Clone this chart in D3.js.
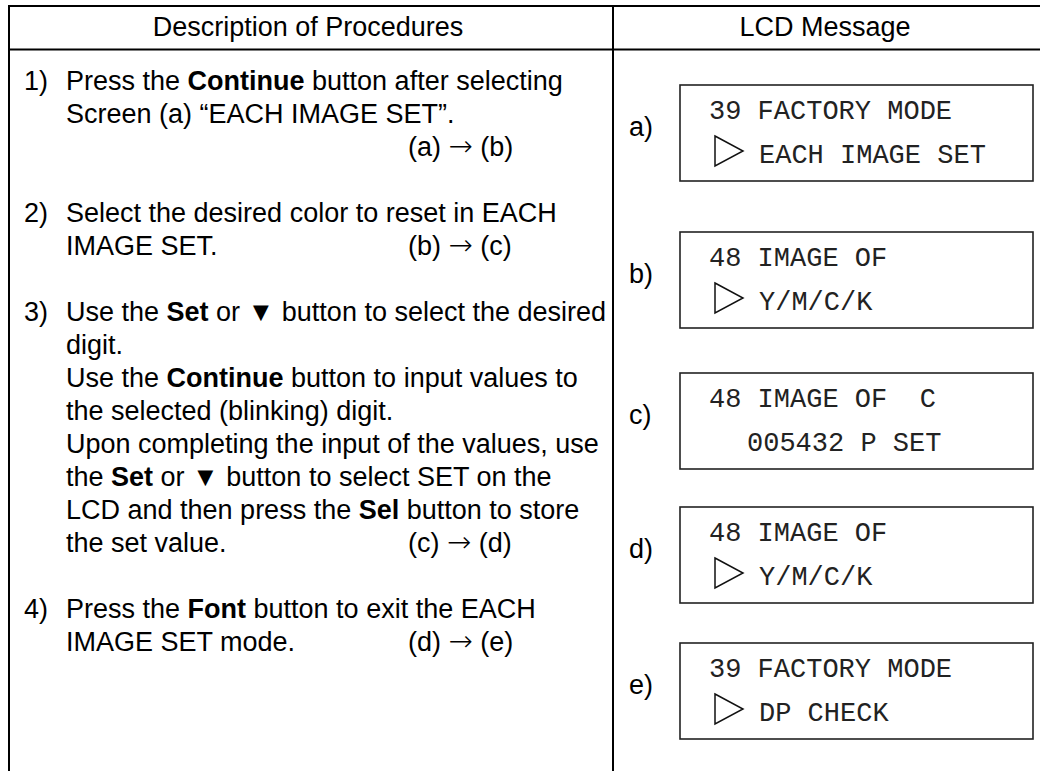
<!DOCTYPE html>
<html>
<head>
<meta charset="utf-8">
<script src="https://cdn.jsdelivr.net/npm/d3@7"></script>
<style>
  html, body { margin: 0; padding: 0; background: #fff; }
  svg { display: block; }
  text { font-family: "Liberation Sans", Arial, Helvetica, sans-serif; fill: #000; }
  .mono { font-family: "Liberation Mono", "Courier New", monospace; fill: #222; }
</style>
</head>
<body>
<svg id="chart" width="1040" height="771"></svg>
<script>
// ---- data ----
const headers = ["Description of Procedures", "LCD Message"];
const stepNumbers = ["1)", "2)", "3)", "4)"];
const stepLines = [
  ["Press the **Continue** button after selecting", "Screen (a) “EACH IMAGE SET”.", ""],
  ["Select the desired color to reset in EACH", "IMAGE SET."],
  ["Use the **Set** or ▼ button to select the desired", "digit.",
   "Use the **Continue** button to input values to", "the selected (blinking) digit.",
   "Upon completing the input of the values, use", "the **Set** or ▼ button to select SET on the",
   "LCD and then press the **Sel** button to store", "the set value."],
  ["Press the **Font** button to exit the EACH", "IMAGE SET mode."]
];
const stepFrom = ["(a)", "(b)", "(c)", "(d)"];
const stepTo = ["(b)", "(c)", "(d)", "(e)"];
const lcdLabels = ["a)", "b)", "c)", "d)", "e)"];
const lcdLine1 = ["39 FACTORY MODE", "48 IMAGE OF", "48 IMAGE OF  C", "48 IMAGE OF", "39 FACTORY MODE"];
const lcdLine2 = ["EACH IMAGE SET", "Y/M/C/K", "005432 P SET", "Y/M/C/K", "DP CHECK"];
const lcdArrow = [true, true, false, true, true];
const lcdTops = [85, 232, 373, 507, 643];

// ---- layout ----
const W = 1040, H = 771;
const svg = d3.select("#chart");
const tableLeft = 9, tableTop = 6, headerBottom = 49.5, colDiv = 613, tableRight = 1037;

// line index scale for the left column
const lineY = d3.scaleLinear().domain([0, 1]).range([90, 123]);

// borders
const g = svg.append("g");
g.append("line").attr("x1", tableLeft - 1).attr("x2", W).attr("y1", tableTop).attr("y2", tableTop)
  .attr("stroke", "#000").attr("stroke-width", 2);
g.append("line").attr("x1", tableLeft - 1).attr("x2", W).attr("y1", headerBottom).attr("y2", headerBottom)
  .attr("stroke", "#000").attr("stroke-width", 2);
g.append("line").attr("x1", tableLeft).attr("x2", tableLeft).attr("y1", tableTop - 1).attr("y2", H)
  .attr("stroke", "#000").attr("stroke-width", 2);
g.append("line").attr("x1", colDiv).attr("x2", colDiv).attr("y1", tableTop - 1).attr("y2", H)
  .attr("stroke", "#000").attr("stroke-width", 2);

// headers
const headerX = [(tableLeft + colDiv) / 2 - 3, (colDiv + tableRight) / 2];
svg.selectAll("text.header").data(headers).join("text")
  .attr("class", "header")
  .attr("x", (d, i) => headerX[i]).attr("y", 36)
  .attr("text-anchor", "middle").attr("font-size", 27)
  .text(d => d);

// left column steps
function addRich(sel, str) {
  const parts = str.split("**");
  parts.forEach((p, i) => {
    if (!p) return;
    sel.append("tspan").attr("font-weight", i % 2 ? "bold" : null).text(p);
  });
}
let idx = 0;
const stepG = svg.append("g");
stepLines.forEach((lines, s) => {
  const startIdx = idx;
  stepG.append("text").attr("x", 24).attr("y", lineY(startIdx)).attr("font-size", 27).text(stepNumbers[s]);
  lines.forEach((ln, k) => {
    const t = stepG.append("text").attr("x", 66).attr("y", lineY(startIdx + k)).attr("font-size", 27);
    addRich(t, ln);
  });
  const tr = stepG.append("text").attr("x", 408).attr("y", lineY(startIdx + lines.length - 1))
    .attr("font-size", 27).style("white-space", "pre");
  tr.append("tspan").text(stepFrom[s] + " ");
  tr.append("tspan").attr("font-family", "'DejaVu Sans', sans-serif").attr("font-size", 29)
    .attr("font-weight", 200).text("→");
  tr.append("tspan").text(" " + stepTo[s]);
  idx += lines.length + 1;
});

// LCD boxes
const boxLeft = 680, boxW = 353, boxH = 96;
const lcd = svg.selectAll("g.lcd").data(lcdLabels).join("g")
  .attr("class", "lcd")
  .attr("transform", (d, i) => `translate(0,${lcdTops[i]})`);
lcd.append("text").attr("x", 629).attr("y", 51).attr("font-size", 27).text(d => d);
lcd.append("rect").attr("x", boxLeft).attr("y", 0).attr("width", boxW).attr("height", boxH)
  .attr("fill", "none").attr("stroke", "#222").attr("stroke-width", 1.6);
lcd.append("text").attr("class", "mono").attr("x", boxLeft + 29).attr("y", 34)
  .attr("font-size", 27).style("white-space", "pre").text((d, i) => lcdLine1[i]);
lcd.append("text").attr("class", "mono")
  .attr("x", (d, i) => boxLeft + (lcdArrow[i] ? 79 : 67)).attr("y", 78)
  .attr("font-size", 27).style("white-space", "pre").text((d, i) => lcdLine2[i]);
lcd.filter((d, i) => lcdArrow[i]).append("path")
  .attr("d", `M${boxLeft + 35},51 L${boxLeft + 63},66 L${boxLeft + 35},81 Z`)
  .attr("fill", "none").attr("stroke", "#111").attr("stroke-width", 1.5);
</script>
</body>
</html>
